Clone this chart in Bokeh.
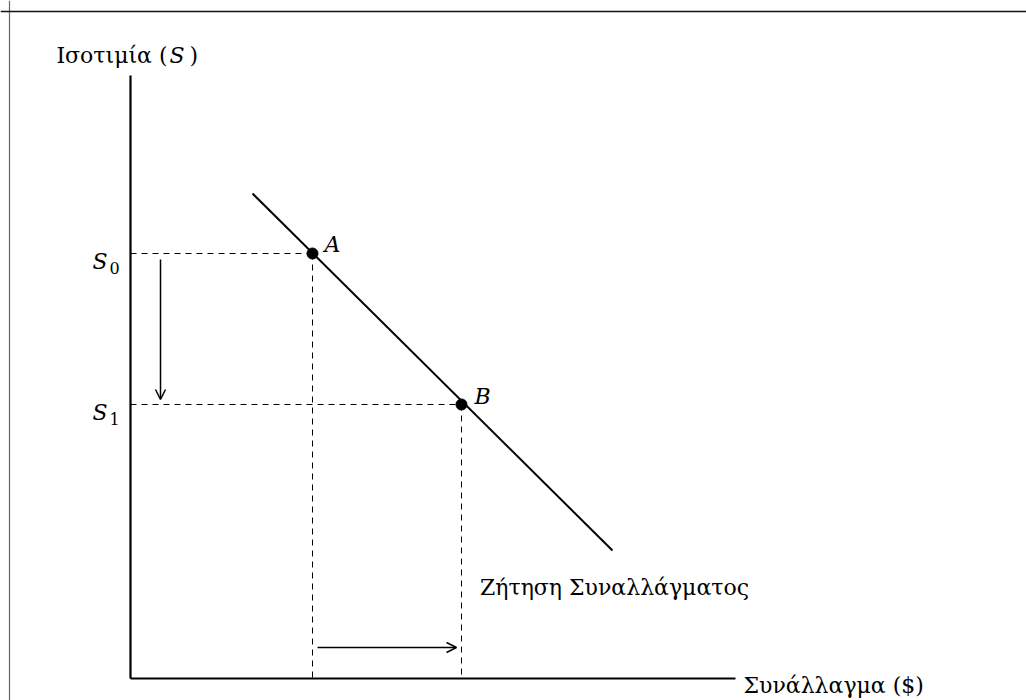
from bokeh.plotting import figure
from bokeh.models import Range1d, Span, Arrow, OpenHead
from bokeh.core.properties import value
from bokeh.embed import file_html
from bokeh.resources import INLINE

# ---- data (abstract units) ----
Q0 = 3.64          # quantity at A
Q1 = 6.62          # quantity at B
S0 = 8.50          # exchange rate at A
S1 = 5.48          # exchange rate at B
demand_q = [2.44, 9.64]
demand_s = [9.70, 2.56]
axis_max_x = 12.1
axis_max_y = 12.06
point_labels = ["A", "B"]
y_label_main = "Ισοτιμία ("
y_label_var = "S"
x_label = "Συνάλλαγμα ($)"
demand_label = "Ζήτηση Συναλλάγματος"

FONT = value("DejaVu Serif")
FS = "22px"

p = figure(width=1026, height=700, output_backend="svg", toolbar_location=None,
           x_range=Range1d(-2.6, 17.92), y_range=Range1d(-0.44, 13.56),
           min_border=0, outline_line_color=None)
p.xaxis.visible = False
p.yaxis.visible = False
p.grid.visible = False
p.background_fill_color = "white"
p.border_fill_color = "white"

# page frame (left and top edges)
p.add_layout(Span(location=-2.42, dimension="height", line_color="#666666", line_width=1.2))
p.add_layout(Span(location=13.34, dimension="width", line_color="#111111", line_width=1.3))

# axes
p.segment(x0=[0, 0], y0=[0, 0], x1=[axis_max_x, 0], y1=[0, axis_max_y],
          line_color="black", line_width=2.2)

# dashed guides
p.segment(x0=[0, 0, Q0, Q1], y0=[S0, S1, S0, S1], x1=[Q0, Q1, Q0, Q1], y1=[S0, S1, 0, 0],
          line_color="black", line_width=1, line_dash="6 5")

# demand curve
p.line(demand_q, demand_s, line_color="black", line_width=2)

# points
p.scatter([Q0, Q1], [S0, S1], size=11, color="black")

# arrows
p.add_layout(Arrow(end=OpenHead(size=10, line_width=1.5, line_color="black"),
                   x_start=0.6, y_start=S0 - 0.12, x_end=0.6, y_end=S1 + 0.1,
                   line_width=1.5, line_color="black"))
p.add_layout(Arrow(end=OpenHead(size=10, line_width=1.5, line_color="black"),
                   x_start=Q0 + 0.1, y_start=0.62, x_end=Q1 - 0.1, y_end=0.62,
                   line_width=1.5, line_color="black"))

# point labels
p.text(x=[Q0, Q1], y=[S0, S1], text=point_labels, x_offset=[12, 13], y_offset=[-9, -8],
       text_font=FONT, text_font_style="italic", text_font_size=FS,
       text_align="left", text_baseline="alphabetic", text_color="black")

# S0 / S1 tick labels
p.text(x=[0, 0], y=[S0, S1], text=["S", "S"], x_offset=-38, y_offset=8,
       text_font=FONT, text_font_style="italic", text_font_size=FS,
       text_align="left", text_baseline="alphabetic", text_color="black")
p.text(x=[0, 0], y=[S0, S1], text=["0", "1"], x_offset=-21, y_offset=14,
       text_font=FONT, text_font_size="16px",
       text_align="left", text_baseline="alphabetic", text_color="black")

# y-axis title
p.text(x=[0], y=[axis_max_y], text=[y_label_main], x_offset=37, y_offset=-20,
       text_font=FONT, text_font_size=FS, text_align="right", text_baseline="alphabetic",
       text_color="black")
p.text(x=[0], y=[axis_max_y], text=[y_label_var], x_offset=39, y_offset=-20,
       text_font=FONT, text_font_style="italic", text_font_size=FS, text_align="left",
       text_baseline="alphabetic", text_color="black")
p.text(x=[0], y=[axis_max_y], text=[")"], x_offset=59, y_offset=-20,
       text_font=FONT, text_font_size=FS, text_align="left", text_baseline="alphabetic",
       text_color="black")

# x-axis title
p.text(x=[axis_max_x], y=[0], text=[x_label], x_offset=8, y_offset=7,
       text_font=FONT, text_font_size=FS, text_align="left", text_baseline="alphabetic",
       text_color="black")

# demand label
p.text(x=[demand_q[-1]], y=[demand_s[-1]], text=[demand_label], x_offset=2, y_offset=37,
       text_font=FONT, text_font_size=FS, text_align="center", text_baseline="alphabetic",
       text_color="black")

open("out.html", "w").write(file_html(p, INLINE))
